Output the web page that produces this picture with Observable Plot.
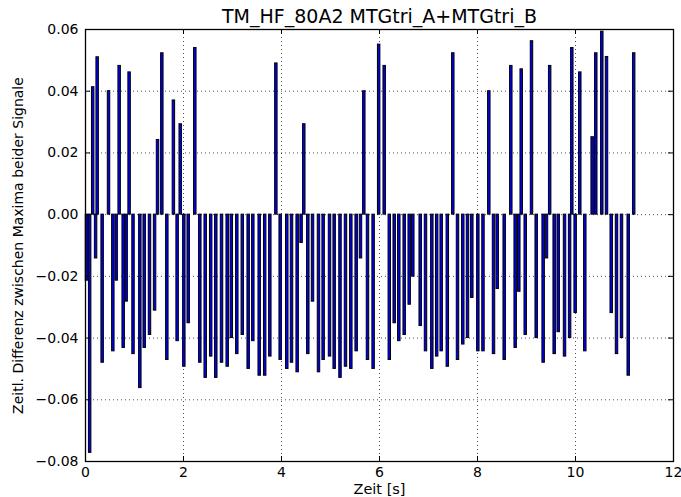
<!DOCTYPE html>
<html>
<head>
<meta charset="utf-8">
<script src="https://cdn.jsdelivr.net/npm/d3@7"></script>
<script src="https://cdn.jsdelivr.net/npm/@observablehq/plot@0.6"></script>
<style>
  html, body { margin: 0; padding: 0; background: white; }
</style>
</head>
<body>
<div id="chart"></div>
<script>
const titleText = "TM_HF_80A2 MTGtri_A+MTGtri_B";
const xLabel = "Zeit [s]";
const yLabel = "Zeitl. Differenz zwischen Maxima beider Signale";

const times = [
  0.03, 0.095, 0.157, 0.216, 0.248, 0.35, 0.48, 0.568, 0.636, 0.697, 0.779, 0.84, 0.90, 0.98, 1.119, 1.208, 1.316, 1.42, 1.48, 1.568, 1.67, 1.804, 1.88, 1.943,
  2.017, 2.106, 2.241, 2.343, 2.453, 2.565, 2.669, 2.786, 2.902, 2.986, 3.098, 3.21, 3.33, 3.425, 3.555, 3.667, 3.772, 3.895,
  3.983, 4.118, 4.214, 4.33, 4.41, 4.465, 4.547, 4.643, 4.765, 4.86, 4.99, 5.085, 5.204, 5.316, 5.425, 5.534, 5.622, 5.69, 5.765, 5.88,
  5.993, 6.106, 6.21, 6.31, 6.404, 6.514, 6.616, 6.69, 6.841, 6.949, 7.078, 7.177, 7.269, 7.394, 7.506, 7.602, 7.71, 7.806, 7.894,
  8.017, 8.122, 8.241, 8.337, 8.412, 8.555, 8.69, 8.779, 8.853, 8.902, 8.984, 9.112, 9.208, 9.35, 9.418, 9.483, 9.575, 9.657, 9.786, 9.89, 9.935,
  10.003, 10.098, 10.2, 10.35, 10.424, 10.547, 10.643, 10.739, 10.847, 10.949, 11.086, 11.198
];

const diffs = [
  -0.0214, -0.0772, 0.0413, -0.0142, 0.051, -0.048, 0.040, -0.0443, -0.0214, 0.0482, -0.0432, -0.0282, 0.0461, -0.0452, -0.0562, -0.0432, -0.039, -0.0311, 0.0242, 0.0523, -0.0471, 0.037, -0.041, 0.0293,
  -0.0493, -0.0352, 0.054, -0.048, -0.0529, -0.046, -0.0529, -0.048, -0.0493, -0.040, -0.0452, -0.039, -0.050, -0.041, -0.0522, -0.0522, -0.046, 0.049,
  -0.0471, -0.050, -0.048, -0.0511, -0.0092, 0.0293, -0.0452, -0.0282, -0.0511, -0.0471, -0.046, -0.050, -0.0529, -0.0493, -0.050, -0.0443, -0.0142, 0.040, -0.0471, -0.050,
  0.0551, 0.0482, -0.0471, -0.0352, -0.041, -0.039, -0.0292, -0.0201, -0.0361, -0.0443, -0.050, -0.046, -0.0443, -0.0493, 0.0523, -0.0471, -0.0421, -0.040, -0.027,
  -0.0443, -0.0443, 0.040, -0.0452, -0.0241, -0.0471, 0.0482, -0.0432, -0.025, 0.0471, -0.039, 0.0562, -0.040, -0.048, -0.0142, 0.0482, -0.0452, -0.0381, -0.046, -0.040, 0.054,
  -0.0319, 0.0461, -0.0443, 0.0251, 0.0523, 0.0593, 0.0511, -0.0319, -0.0452, -0.040, -0.0522, 0.0523
];

const xTicks = [0, 2, 4, 6, 8, 10, 12];
const yTicks = [-0.08, -0.06, -0.04, -0.02, 0.00, 0.02, 0.04, 0.06];

const bars = times.map((t, i) => ({t, v: diffs[i]}));
const halfW = 0.025;
const innerH = 497 - 29 - 36;
const innerW = 681 - 85 - 8;
const fmt = d3.format(".2f");

const chart = Plot.plot({
  width: 681,
  height: 497,
  marginLeft: 85,
  marginRight: 8,
  marginTop: 29,
  marginBottom: 36,
  style: {fontFamily: "DejaVu Sans, sans-serif", fontSize: "14px", background: "white", color: "black"},
  x: {domain: [0, 12]},
  y: {domain: [-0.08, 0.06]},
  marks: [
    Plot.ruleX(xTicks.slice(1, -1), {x: d => d, stroke: "#222", strokeWidth: 0.8, strokeDasharray: "1,3"}),
    Plot.ruleY(yTicks.slice(1, -1), {y: d => d, stroke: "#222", strokeWidth: 0.8, strokeDasharray: "1,3"}),
    Plot.rect(bars, {x1: d => d.t - halfW, x2: d => d.t + halfW, y1: d => 0, y2: d => d.v, fill: "#0000ee", stroke: "black", strokeWidth: 1}),
    Plot.tickX(xTicks, {x: d => d, insetTop: innerH - 5, stroke: "black"}),
    Plot.tickX(xTicks, {x: d => d, insetBottom: innerH - 5, stroke: "black"}),
    Plot.tickY(yTicks, {y: d => d, insetRight: innerW - 5, stroke: "black"}),
    Plot.tickY(yTicks, {y: d => d, insetLeft: innerW - 5, stroke: "black"}),
    Plot.axisX(xTicks, {tickSize: 0, tickPadding: 6, fontSize: 14, label: null, tickFormat: d => String(d)}),
    Plot.axisY(yTicks, {tickSize: 0, tickPadding: 7, fontSize: 14, label: null, tickFormat: d => fmt(d)}),
    Plot.frame({stroke: "black", strokeWidth: 1.3}),
    Plot.text([titleText], {text: d => d, frameAnchor: "top", lineAnchor: "middle", textAnchor: "middle", dy: -13, fontSize: 19, fill: "black"}),
    Plot.text([xLabel], {text: d => d, frameAnchor: "bottom", lineAnchor: "middle", textAnchor: "middle", dy: 28, fontSize: 14.5, fill: "black"}),
    Plot.text([yLabel], {text: d => d, frameAnchor: "left", lineAnchor: "middle", textAnchor: "middle", dx: -67, rotate: -90, fontSize: 14, fill: "black"})
  ]
});
document.getElementById("chart").appendChild(chart);
</script>
</body>
</html>
